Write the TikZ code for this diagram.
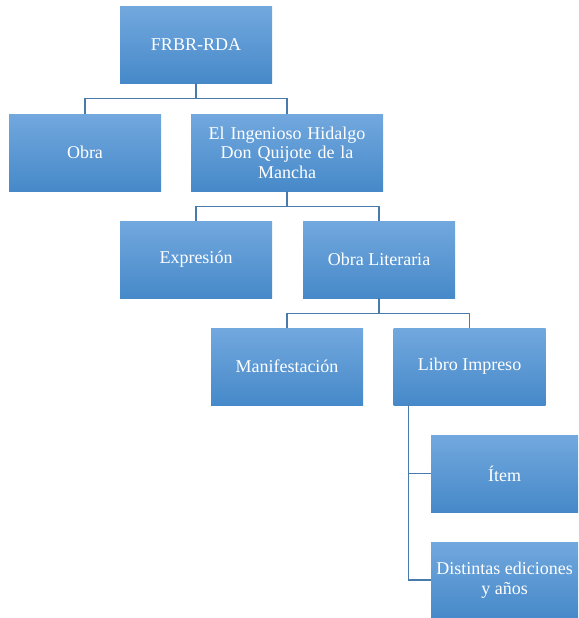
\documentclass[tikz,border=0pt]{standalone}
\usepackage{fontspec}
\setmainfont{Liberation Serif}
\usepackage{tikz}
\usetikzlibrary{
positioning,
calc
}
\definecolor{boxtop}{RGB}{114,168,222}
\definecolor{boxbot}{RGB}{70,137,201}
\definecolor{linkcol}{RGB}{72,122,172}

\begin{document}
\begin{tikzpicture}[x=1pt,y=-1pt,
    card/.style={rectangle,top color=boxtop,bottom color=boxbot,text=white,
      minimum width=152pt,minimum height=77pt,inner sep=0pt,align=center,
      font=\fontsize{18}{19.5}\selectfont},
    link/.style={draw=linkcol,line width=1.4pt}]
      \useasboundingbox (0,0) rectangle (578,618);
      \node[card,minimum height=76pt] (frbr) at (196,45) {FRBR-RDA};
      \node[card] (obra) at (85,152.5) {Obra};
      \node[card,minimum width=192pt,text width=180pt] (quijote) at (287,152.5) {El Ingenioso Hidalgo\\Don Quijote de la\\Mancha};
      \node[card] (expr) at (196,259.5) {Expresión};
      \node[card] (literaria) at (379,259.5) {Obra Literaria};
      \node[card] (manif) at (287,366.5) {Manifestación};
      \node[card] (libro) at (469.5,366.5) {Libro Impreso};
      \node[card,minimum width=147pt] (item) at (504.5,473.5) {Ítem};
      \node[card,minimum width=147pt,minimum height=76pt] (ediciones) at (504.5,580) {Distintas ediciones\\y años};
         \path[link] (frbr.south) -- ++(0,15) -| (obra.north);
         \path[link] (frbr.south) -- ++(0,15) -| (quijote.north);
         \path[link] (quijote.south) -- ++(0,15) -| (expr.north);
         \path[link] (quijote.south) -- ++(0,15) -| (literaria.north);
         \path[link] (literaria.south) -- ++(0,15) -| (manif.north);
         \path[link] (literaria.south) -- ++(0,15) -| (libro.north);
         \path[link] ($(libro.south west)+(15,0)$) |- (item.west);
         \path[link] ($(libro.south west)+(15,0)$) |- (ediciones.west);
    \end{tikzpicture}
\end{document}
